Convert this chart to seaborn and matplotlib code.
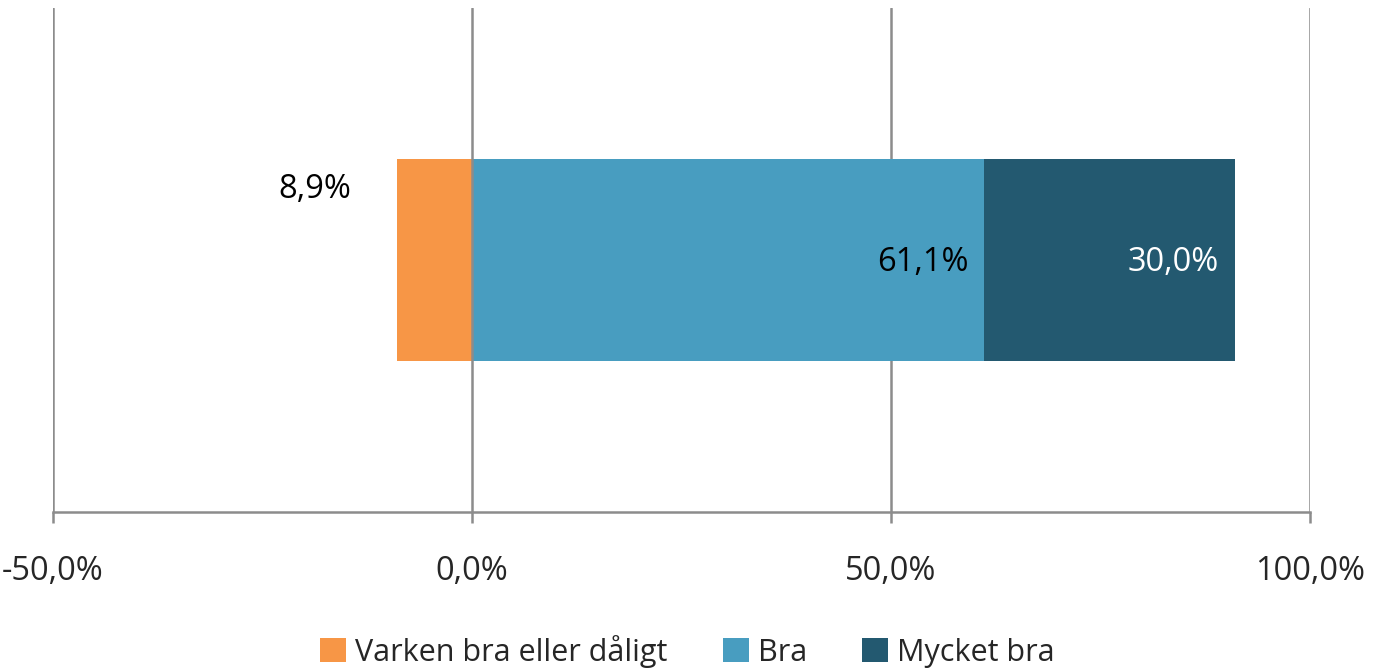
import matplotlib
matplotlib.use("Agg")
import matplotlib.pyplot as plt
import seaborn as sns
import pandas as pd
from matplotlib.patches import Patch

# data
categories = ["Varken bra eller dåligt", "Bra", "Mycket bra"]
values = [8.9, 61.1, 30.0]
colors = ["#F79646", "#489DC0", "#235970"]
ticks = [-50, 0, 50, 100]
tick_labels = ["-50,0%", "0,0%", "50,0%", "100,0%"]

sns.set_theme(style="white")
plt.rcParams["font.family"] = ["Open Sans", "DejaVu Sans"]
FS = 23.5

fig = plt.figure(figsize=(13.75, 6.7), dpi=100)
ax = fig.add_axes([0.0385, 0.236, 0.9142, 0.752])

# diverging stack: negative part left of zero, the rest stacked to the right
neg = -values[0]
bra_end = values[1]
mycket_end = values[1] + values[2]
row = ["Svar"]

# draw the longest first so shorter bars sit on top
sns.barplot(x=[mycket_end], y=row, color=colors[2], width=0.4, saturation=1, ax=ax, orient="h")
sns.barplot(x=[bra_end], y=row, color=colors[1], width=0.4, saturation=1, ax=ax, orient="h")
sns.barplot(x=[neg], y=row, color=colors[0], width=0.4, saturation=1, ax=ax, orient="h")
for p in ax.patches:
    p.set_linewidth(0)
    p.set_zorder(2)

ax.set_xlim(-50, 100)
ax.set_ylim(0.5, -0.5)
ax.set_xticks(ticks)
ax.set_xticklabels(tick_labels, fontsize=FS)
ax.set_yticks([])
ax.set_xlabel("")
ax.set_ylabel("")
for t in ticks:
    ax.axvline(t, color="#8c8c8c", lw=1.8, zorder=3 if t == 0 else 1)

for s in ["top", "right", "left"]:
    ax.spines[s].set_visible(False)
ax.spines["bottom"].set_color("#8c8c8c")
ax.spines["bottom"].set_linewidth(1.8)
ax.tick_params(axis="x", length=8, width=1.8, color="#8c8c8c", pad=23, bottom=True)

# labels
ax.annotate("8,9%", xy=(neg, 0), xytext=(-33, 51), textcoords="offset points",
            ha="right", va="center", fontsize=FS, color="black")
ax.annotate("61,1%", xy=(bra_end, 0), xytext=(-11, -2), textcoords="offset points",
            ha="right", va="center", fontsize=FS, color="black")
ax.annotate("30,0%", xy=(mycket_end, 0), xytext=(-12, -2), textcoords="offset points",
            ha="right", va="center", fontsize=FS, color="white")

handles = [Patch(facecolor=c, edgecolor="none") for c in colors]
fig.legend(handles, categories, loc="center", bbox_to_anchor=(0.5, 0.028), ncol=3,
           frameon=False, fontsize=22, handlelength=0.85, handleheight=0.85,
           handletextpad=0.3, columnspacing=1.8)

fig.savefig("out.png", dpi=100)
